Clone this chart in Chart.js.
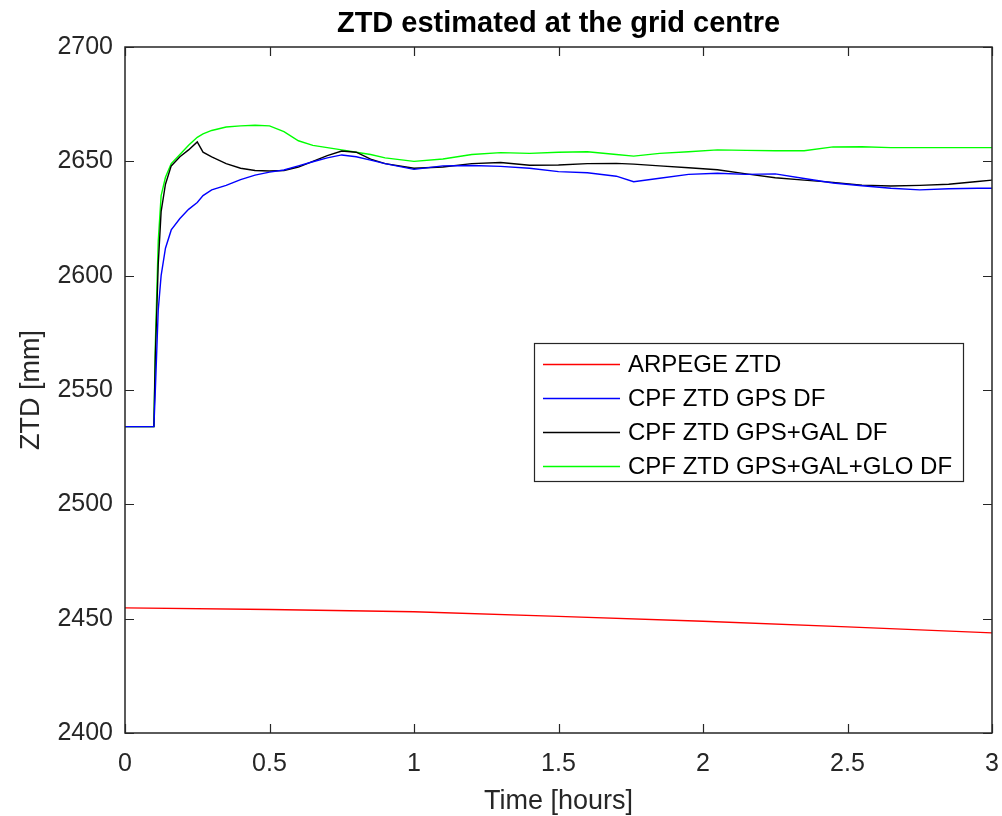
<!DOCTYPE html>
<html>
<head>
<meta charset="utf-8">
<script src="https://cdn.jsdelivr.net/npm/chart.js@4/dist/chart.umd.min.js"></script>
<style>
  html, body { margin: 0; padding: 0; background: #ffffff; }
  #wrap { width: 1002px; height: 816px; }
</style>
</head>
<body>
<div id="wrap"><canvas id="ztd" width="1002" height="816"></canvas></div>
<script>
// Model ZTD (ARPEGE) sampled in hours
const arpegeTime = [0, 0.5, 1.0, 1.5, 2.0, 2.5, 3.0];
const arpegeZtd  = [2454.7, 2454.0, 2453.0, 2451.0, 2448.9, 2446.4, 2443.8];

// Common time grid for the CPF solutions (hours)
const cpfTime = [
  0, 0.1, 0.105, 0.115, 0.125, 0.14, 0.16, 0.19, 0.22, 0.25, 0.27, 0.3, 0.35,
  0.4, 0.45, 0.5, 0.55, 0.6, 0.65, 0.7, 0.75, 0.8, 0.85, 0.9, 1.0, 1.1, 1.2,
  1.3, 1.4, 1.5, 1.6, 1.7, 1.76, 1.85, 1.95, 2.05, 2.15, 2.25, 2.35, 2.45,
  2.55, 2.65, 2.75, 2.85, 2.95, 3.0
];
const cpfGps = [
  2534, 2534, 2550, 2585, 2600, 2612, 2620, 2625, 2629, 2632, 2635, 2637.5, 2639.5,
  2642, 2644, 2645.3, 2646.2, 2648, 2649.8, 2651.5, 2652.8, 2652, 2650.5, 2649, 2646.5, 2648, 2648.2,
  2647.8, 2647, 2645.5, 2645, 2643.5, 2641.1, 2642.6, 2644.3, 2644.8, 2644.3, 2644.5, 2642.5, 2640.5,
  2639.3, 2638.2, 2637.5, 2638, 2638.2, 2638.2
];
const cpfGpsGal = [
  2534, 2534, 2565, 2605, 2628, 2640, 2648, 2652, 2655, 2658.5, 2654, 2652, 2649,
  2647, 2646, 2645.8, 2646, 2647.5, 2650, 2652.5, 2654.5, 2654, 2651, 2649, 2647, 2647.5, 2649,
  2649.5, 2648.3, 2648.4, 2649, 2649.1, 2648.8, 2648, 2647.2, 2646.3, 2644.5, 2642.8, 2641.8, 2640.8,
  2639.6, 2639.2, 2639.5, 2640, 2641.2, 2641.8
];
const cpfGpsGalGlo = [
  2534, 2534, 2570, 2615, 2635, 2643, 2649, 2653, 2657, 2660.5, 2662, 2663.5, 2665,
  2665.5, 2665.8, 2665.5, 2663, 2659, 2657, 2656, 2655, 2654, 2653, 2651.5, 2650, 2651, 2653,
  2653.8, 2653.5, 2654, 2654.2, 2653, 2652.3, 2653.5, 2654.2, 2655, 2654.8, 2654.6, 2654.6, 2656.3,
  2656.4, 2656, 2656, 2656, 2656, 2656
];

const seriesLabels = ['ARPEGE ZTD', 'CPF ZTD GPS DF', 'CPF ZTD GPS+GAL DF', 'CPF ZTD GPS+GAL+GLO DF'];
const xTicks = [0, 0.5, 1, 1.5, 2, 2.5, 3];
const yTicks = [2400, 2450, 2500, 2550, 2600, 2650, 2700];

const pairs = (xs, ys) => xs.map((x, i) => ({ x: x, y: ys[i] }));

const AXIS_COLOR = '#262626';
const FONT = "'Liberation Sans', Arial, Helvetica, sans-serif";

// Box around the axes, inward ticks, title and in-plot legend
const matlabAxes = {
  id: 'matlabAxes',
  afterDraw(chart) {
    const { ctx, chartArea: a, scales } = chart;
    const tl = 9;
    ctx.save();
    ctx.strokeStyle = AXIS_COLOR;
    ctx.lineWidth = 1.5;
    ctx.strokeRect(a.left, a.top, a.right - a.left, a.bottom - a.top);
    ctx.lineWidth = 1.2;
    ctx.beginPath();
    xTicks.forEach(v => {
      const px = Math.round(scales.x.getPixelForValue(v)) + 0.5;
      ctx.moveTo(px, a.bottom); ctx.lineTo(px, a.bottom - tl);
      ctx.moveTo(px, a.top); ctx.lineTo(px, a.top + tl);
    });
    yTicks.forEach(v => {
      const py = Math.round(scales.y.getPixelForValue(v)) + 0.5;
      ctx.moveTo(a.left, py); ctx.lineTo(a.left + tl, py);
      ctx.moveTo(a.right, py); ctx.lineTo(a.right - tl, py);
    });
    ctx.stroke();

    // title
    ctx.fillStyle = '#000000';
    ctx.font = 'bold 29px ' + FONT;
    ctx.textAlign = 'center';
    ctx.textBaseline = 'alphabetic';
    ctx.fillText('ZTD estimated at the grid centre', (a.left + a.right) / 2, 32);

    // legend
    const lx = a.right - 29, ly = 343, lw = 429, lh = 138;
    const left = lx - lw;
    ctx.fillStyle = '#ffffff';
    ctx.fillRect(left, ly, lw, lh);
    ctx.strokeStyle = AXIS_COLOR;
    ctx.lineWidth = 1.2;
    ctx.strokeRect(left + 0.5, ly + 0.5, lw, lh);
    ctx.font = '24px ' + FONT;
    ctx.textAlign = 'left';
    ctx.textBaseline = 'middle';
    chart.data.datasets.forEach((ds, i) => {
      const cy = ly + 21 + i * 34;
      ctx.strokeStyle = ds.borderColor;
      ctx.lineWidth = 1.5;
      ctx.beginPath();
      ctx.moveTo(left + 9, cy + 0.5);
      ctx.lineTo(left + 86, cy + 0.5);
      ctx.stroke();
      ctx.fillStyle = '#000000';
      ctx.fillText(ds.label, left + 94, cy + 1);
    });
    ctx.restore();
  }
};

const lineStyle = color => ({
  borderColor: color,
  backgroundColor: color,
  borderWidth: 1.4,
  pointRadius: 0,
  tension: 0,
  fill: false
});

new Chart(document.getElementById('ztd'), {
  type: 'line',
  data: {
    datasets: [
      Object.assign({ label: seriesLabels[0], data: pairs(arpegeTime, arpegeZtd) }, lineStyle('#ff0000')),
      Object.assign({ label: seriesLabels[1], data: pairs(cpfTime, cpfGps) }, lineStyle('#0000ff')),
      Object.assign({ label: seriesLabels[2], data: pairs(cpfTime, cpfGpsGal) }, lineStyle('#000000')),
      Object.assign({ label: seriesLabels[3], data: pairs(cpfTime, cpfGpsGalGlo) }, lineStyle('#00ff00'))
    ]
  },
  options: {
    responsive: false,
    animation: false,
    layout: { padding: { top: 47, left: 0, right: 10, bottom: 0 } },
    plugins: {
      legend: { display: false },
      title: { display: false },
      tooltip: { enabled: false }
    },
    scales: {
      x: {
        type: 'linear',
        min: 0, max: 3,
        afterBuildTicks: s => { s.ticks = xTicks.map(v => ({ value: v })); },
        afterFit: s => { s.height = 83; s.paddingLeft = 0; s.paddingRight = 0; },
        grid: { display: false, drawTicks: false },
        border: { display: false },
        ticks: {
          color: AXIS_COLOR,
          font: { family: FONT, size: 25 },
          padding: 16,
          maxRotation: 0,
          callback: v => String(v)
        },
        title: {
          display: true,
          text: 'Time [hours]',
          color: AXIS_COLOR,
          font: { family: FONT, size: 27, lineHeight: 1.1 },
          padding: { top: 0, bottom: 0 }
        }
      },
      y: {
        type: 'linear',
        min: 2400, max: 2700,
        afterBuildTicks: s => { s.ticks = yTicks.map(v => ({ value: v })); },
        afterFit: s => { s.width = 125; s.paddingTop = 0; s.paddingBottom = 0; },
        grid: { display: false, drawTicks: false },
        border: { display: false },
        ticks: {
          color: AXIS_COLOR,
          font: { family: FONT, size: 25 },
          padding: 12,
          callback: v => String(v)
        },
        title: {
          display: true,
          text: 'ZTD [mm]',
          color: AXIS_COLOR,
          font: { family: FONT, size: 27 },
          padding: { top: 15, bottom: 0 }
        }
      }
    }
  },
  plugins: [matlabAxes]
});
</script>
</body>
</html>
